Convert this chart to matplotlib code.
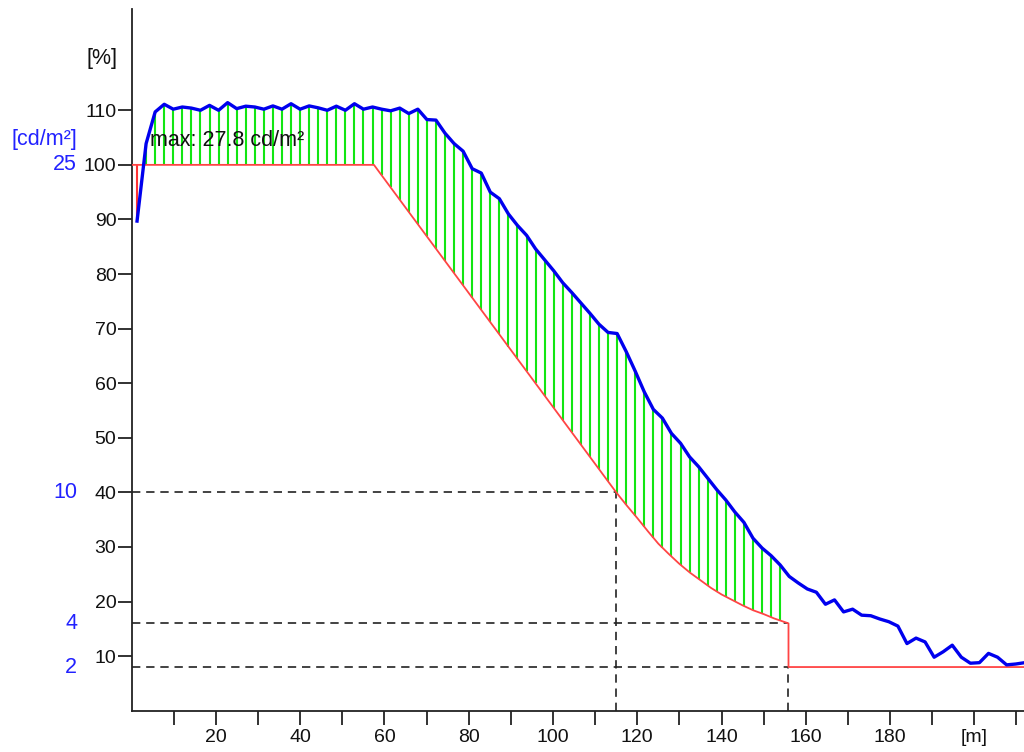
import numpy as np
import matplotlib
matplotlib.use("Agg")
import matplotlib.pyplot as plt
from matplotlib.transforms import blended_transform_factory

plt.rcParams['font.family'] = ['Liberation Sans', 'DejaVu Sans']

# measured luminance (% of reference) at regular spacing
meas_x0 = 1.27
meas_dx = 2.15
meas_pct = [89.7, 103.9, 109.7, 111.1, 110.2, 110.6, 110.4, 110.0, 110.9, 110.0,
            111.4, 110.3, 110.75, 110.6, 110.2, 110.8, 110.2, 111.2, 110.2, 110.8,
            110.45, 110.0, 110.75, 110.0, 111.2, 110.2, 110.6, 110.2, 109.9, 110.4,
            109.4, 110.2, 108.3, 108.2, 105.8, 103.9, 102.5, 99.3, 98.5, 95.0,
            93.8, 91.0, 88.9, 87.1, 84.6, 82.6, 80.6, 78.4, 76.6, 74.7,
            72.8, 70.8, 69.3, 69.1, 65.8, 62.2, 58.4, 55.2, 53.6, 50.8,
            49.0, 46.5, 44.7, 42.6, 40.5, 38.6, 36.4, 34.5, 31.6, 29.8,
            28.4, 26.7, 24.6, 23.4, 22.3, 21.7, 19.5, 20.3, 18.1, 18.6,
            17.5, 17.4, 16.8, 16.3, 15.5, 12.3, 13.3, 12.6, 9.8, 10.8,
            12.0, 9.8, 8.7, 8.8, 10.5, 9.8, 8.4, 8.55, 8.8]
meas_x = meas_x0 + meas_dx * np.arange(len(meas_pct))

# required luminance curve (%)
req_x = [0, 57.5, 115, 117.5, 120, 122.5, 125, 127.5, 130, 132.5, 135, 137.5,
         140, 142.5, 145, 147.5, 150, 152.5, 155.9, 155.9, 215]
req_y = [100, 100, 40, 37.6, 35.3, 32.9, 30.6, 28.7, 26.9, 25.3, 23.9, 22.5,
         21.3, 20.3, 19.3, 18.4, 17.7, 16.9, 16.0, 8.0, 8.0]

zone_end = 155.9
ref_levels_pct = [40, 16, 8]
ref_levels_cd = ['10', '4', '2']
ref_x_ends = [115, 155.9, 155.9]

xticks = list(range(10, 211, 10))
xlabels = ['' if t % 20 else str(t) for t in xticks]
xlabels[xticks.index(200)] = '[m]'
yticks = list(range(10, 111, 10))

fig = plt.figure(figsize=(10.24, 7.52), dpi=100)
ax = fig.add_axes([131.7 / 1024, 41.3 / 752, 1 - 131.7 / 1024, (710.7 - 9.3) / 752])
ax.set_xlim(0, 211.8)
ax.set_ylim(0, 128.5)

for s in ['top', 'right']:
    ax.spines[s].set_visible(False)
for s in ['left', 'bottom']:
    ax.spines[s].set_linewidth(1.3)
    ax.spines[s].set_color('#222222')

ax.set_xticks(xticks)
ax.set_xticklabels(xlabels)
ax.set_yticks(yticks)
ax.set_yticklabels([str(t) for t in yticks])
ax.tick_params(axis='both', direction='out', length=10, width=1.3, color='#222222',
               labelsize=14, labelcolor='#111111')
ax.tick_params(axis='y', pad=1)
ax.tick_params(axis='x', pad=3)

# dashed reference lines
dash = dict(color='#222222', lw=1.2, linestyle=(0, (5, 3.5)), zorder=2)
for lv, xe in zip(ref_levels_pct, ref_x_ends):
    ax.plot([0, xe], [lv, lv], **dash)
ax.plot([115, 115], [0, 40], **dash)
ax.plot([155.9, 155.9], [0, 8], **dash)

# hatch lines between requirement and measurement
req_at = np.interp(meas_x, req_x[:19], req_y[:19])
mask = meas_x <= zone_end
mx = meas_x[mask]
mp = np.array(meas_pct)[mask]
rq = req_at[mask]
cols = ['#11e611' if p >= r else '#ff3333' for p, r in zip(mp, rq)]
ax.vlines(mx, rq, mp, colors=cols, lw=1.5, zorder=3)

# requirement curve
ax.plot(req_x, req_y, color='#ff4444', lw=1.3, zorder=4)

# measured curve
ax.plot(meas_x, meas_pct, color='#0000ee', lw=2.4, zorder=5, solid_joinstyle='round')

lab_fs = 15.5
ax.text(4.3, 104.5, 'max: 27.8 cd/m²', fontsize=lab_fs, color='#111111', va='center',
        ha='left', zorder=6)

tr = blended_transform_factory(fig.transFigure, ax.transData)
ax.text(117 / 1024, 119.5, '[%]', transform=tr, fontsize=lab_fs, color='#111111',
        ha='right', va='center', clip_on=False)
ax.text(77 / 1024, 104.7, '[cd/m²]', transform=tr, fontsize=lab_fs, color='#2222ff',
        ha='right', va='center', clip_on=False)
ax.text(77 / 1024, 100, '25', transform=tr, fontsize=lab_fs, color='#2222ff',
        ha='right', va='center', clip_on=False)
for lv, lab in zip(ref_levels_pct, ref_levels_cd):
    ax.text(77 / 1024, lv, lab, transform=tr, fontsize=lab_fs, color='#2222ff',
            ha='right', va='center', clip_on=False)

fig.savefig('out.png', dpi=100)
